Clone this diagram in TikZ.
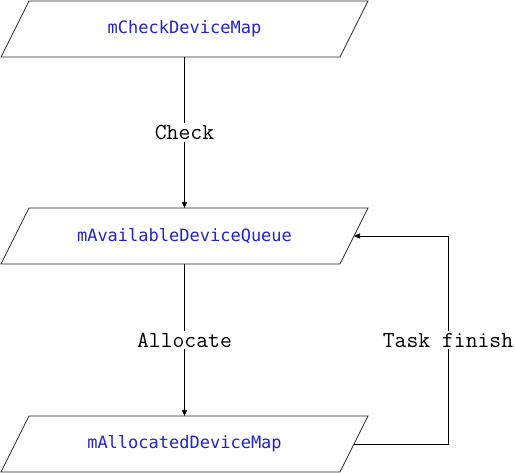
\documentclass[tikz,border=0pt]{standalone}
\usepackage{fontspec}
\newfontfamily\dejamono{DejaVu Sans Mono}
\usetikzlibrary{calc,arrows.meta}
\definecolor{txtblue}{RGB}{34,34,204}
\definecolor{edgegray}{RGB}{40,40,40}
\begin{document}
\begin{tikzpicture}[x=1pt,y=-1pt,
  databox/.style={rectangle, minimum width=339pt, minimum height=56pt,
    inner sep=0pt, outer sep=0pt,
    font=\dejamono\fontsize{17}{20}\selectfont, text=txtblue},
  pgram/.style={draw=edgegray, line width=0.8pt},
  conn/.style={draw=black, line width=0.7pt, -{Triangle[length=6pt,width=5pt]}},
  lbl/.style={fill=white, inner sep=2pt, font=\ttfamily\fontsize{23}{27}\selectfont}]
\useasboundingbox (0,0) rectangle (515,473);
\node[databox] (check) at (184.5,29) {mCheckDeviceMap};
\node[databox] (avail) at (184.5,236) {mAvailableDeviceQueue};
\node[databox] (alloc) at (184.5,444) {mAllocatedDeviceMap};
\foreach \n in {check,avail,alloc}{
  \draw[pgram] ($(\n.north west)+(14,0)$) -- ($(\n.north east)+(14,0)$)
    -- ($(\n.south east)+(-14,0)$) -- ($(\n.south west)+(-14,0)$) -- cycle;
}
\coordinate (turnb) at (448,444);
\coordinate (turnt) at (448,236);
\draw[conn] (check.south) -- node[lbl] (lcheck) {Check} (avail.north);
\draw[conn] (avail.south) -- node[lbl] (lalloc) {Allocate} (alloc.north);
\draw[conn] (alloc.east) -- (turnb) -- node[lbl] (ltask) {Task finish} (turnt) -- (avail.east);
\end{tikzpicture}
\end{document}
